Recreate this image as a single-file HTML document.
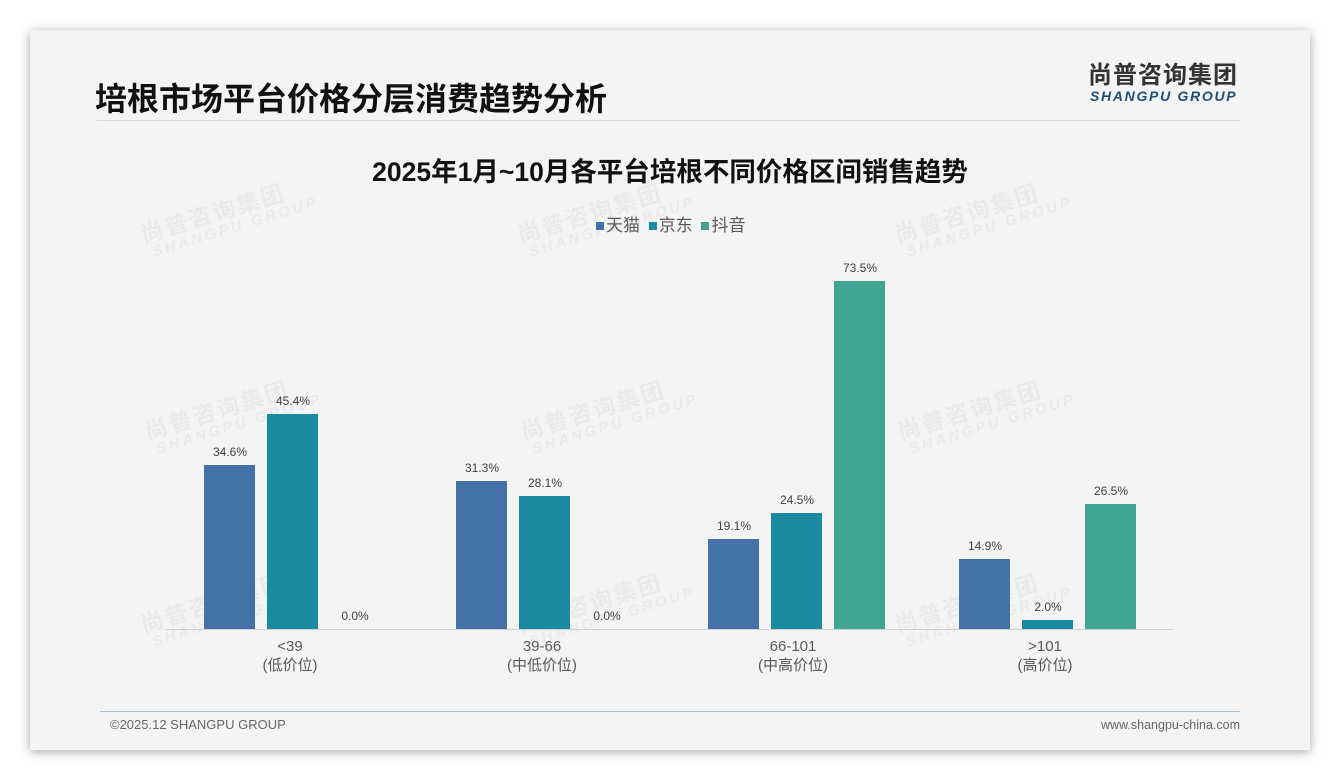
<!DOCTYPE html>
<html><head><meta charset="utf-8"><style>
body{margin:0;width:1340px;height:780px;background:#fff;position:relative;overflow:hidden;font-family:"Liberation Sans","Noto Sans CJK SC",sans-serif;}
.card{position:absolute;left:30px;top:30px;width:1280px;height:720px;background:#f4f4f4;box-shadow:0 2px 10px rgba(0,0,0,0.35);}
.abs{position:absolute;white-space:nowrap;}
.wm{position:absolute;color:rgba(0,0,0,0.04);transform:rotate(-17deg);transform-origin:left top;font-weight:bold;line-height:1;}
.wm .a{font-size:23px;letter-spacing:2px;}
.wm .b{font-size:15px;letter-spacing:3px;font-style:italic;margin-left:6px;}
.bar{position:absolute;width:51px;}
.lbl{position:absolute;width:80px;text-align:center;font-size:12px;color:#404040;}
.cat{position:absolute;width:160px;text-align:center;font-size:15px;color:#595959;line-height:19px;}
.sq{display:inline-block;width:8px;height:8px;margin-right:2px;vertical-align:1px;}
</style></head><body>
<div class="card"></div>
<div class="abs" style="left:95px;top:74px;font-size:32px;font-weight:bold;color:#111;">培根市场平台价格分层消费趋势分析</div>
<div class="abs" style="left:97px;top:120px;width:1143px;height:1px;background:#dcdcdc;"></div>
<div class="abs" style="left:1088px;top:63px;font-size:24px;line-height:26px;font-weight:bold;color:#333;letter-spacing:1px;">尚普咨询集团</div>
<div class="abs" style="left:1090px;top:88px;font-size:14px;line-height:16px;font-weight:bold;font-style:italic;color:#1f4e79;letter-spacing:1.7px;">SHANGPU GROUP</div>
<div class="abs" style="left:0;width:1340px;top:150px;text-align:center;font-size:26.5px;font-weight:bold;color:#111;">2025年1月~10月各平台培根不同价格区间销售趋势</div>
<div class="abs" style="left:596px;top:211px;font-size:17px;color:#595959;">
<span class="sq" style="background:#4472a8;"></span>天猫 <span class="sq" style="background:#1a8aa0;margin-left:4px;"></span>京东 <span class="sq" style="background:#3fa592;margin-left:4px;"></span>抖音</div>

<div class="wm" style="left:138px;top:225px"><div class="a">尚普咨询集团</div><div class="b">SHANGPU GROUP</div></div>
<div class="wm" style="left:515px;top:225px"><div class="a">尚普咨询集团</div><div class="b">SHANGPU GROUP</div></div>
<div class="wm" style="left:892px;top:225px"><div class="a">尚普咨询集团</div><div class="b">SHANGPU GROUP</div></div>
<div class="wm" style="left:142px;top:422px"><div class="a">尚普咨询集团</div><div class="b">SHANGPU GROUP</div></div>
<div class="wm" style="left:518px;top:422px"><div class="a">尚普咨询集团</div><div class="b">SHANGPU GROUP</div></div>
<div class="wm" style="left:895px;top:422px"><div class="a">尚普咨询集团</div><div class="b">SHANGPU GROUP</div></div>
<div class="wm" style="left:138px;top:615px"><div class="a">尚普咨询集团</div><div class="b">SHANGPU GROUP</div></div>
<div class="wm" style="left:515px;top:615px"><div class="a">尚普咨询集团</div><div class="b">SHANGPU GROUP</div></div>
<div class="wm" style="left:892px;top:615px"><div class="a">尚普咨询集团</div><div class="b">SHANGPU GROUP</div></div>

<div class="abs" style="left:165px;top:629px;width:1008px;height:1px;background:#d0d0d0;"></div>

<div class="bar" style="left:204px;top:465px;height:164px;background:#4472a8"></div>
<div class="bar" style="left:267px;top:414px;height:215px;background:#1a8aa0"></div>
<div class="lbl" style="left:190px;top:445px">34.6%</div>
<div class="lbl" style="left:253px;top:394px">45.4%</div>
<div class="lbl" style="left:315px;top:609px">0.0%</div>

<div class="bar" style="left:456px;top:481px;height:148px;background:#4472a8"></div>
<div class="bar" style="left:519px;top:496px;height:133px;background:#1a8aa0"></div>
<div class="lbl" style="left:442px;top:461px">31.3%</div>
<div class="lbl" style="left:505px;top:476px">28.1%</div>
<div class="lbl" style="left:567px;top:609px">0.0%</div>

<div class="bar" style="left:708px;top:539px;height:90px;background:#4472a8"></div>
<div class="bar" style="left:771px;top:513px;height:116px;background:#1a8aa0"></div>
<div class="bar" style="left:834px;top:281px;height:348px;background:#3fa592"></div>
<div class="lbl" style="left:694px;top:519px">19.1%</div>
<div class="lbl" style="left:757px;top:493px">24.5%</div>
<div class="lbl" style="left:820px;top:261px">73.5%</div>

<div class="bar" style="left:959px;top:559px;height:70px;background:#4472a8"></div>
<div class="bar" style="left:1022px;top:620px;height:9px;background:#1a8aa0"></div>
<div class="bar" style="left:1085px;top:504px;height:125px;background:#3fa592"></div>
<div class="lbl" style="left:945px;top:539px">14.9%</div>
<div class="lbl" style="left:1008px;top:600px">2.0%</div>
<div class="lbl" style="left:1071px;top:484px">26.5%</div>

<div class="cat" style="left:210px;top:637px">&lt;39<br>(低价位)</div>
<div class="cat" style="left:462px;top:637px">39-66<br>(中低价位)</div>
<div class="cat" style="left:713px;top:637px">66-101<br>(中高价位)</div>
<div class="cat" style="left:965px;top:637px">&gt;101<br>(高价位)</div>

<div class="abs" style="left:100px;top:711px;width:1140px;height:1px;background:#a9bfd6;"></div>
<div class="abs" style="left:110px;top:717px;font-size:13px;color:#666;">©2025.12 SHANGPU GROUP</div>
<div class="abs" style="left:1040px;top:718px;width:200px;text-align:right;font-size:12.5px;color:#666;">www.shangpu-china.com</div>
</body></html>
